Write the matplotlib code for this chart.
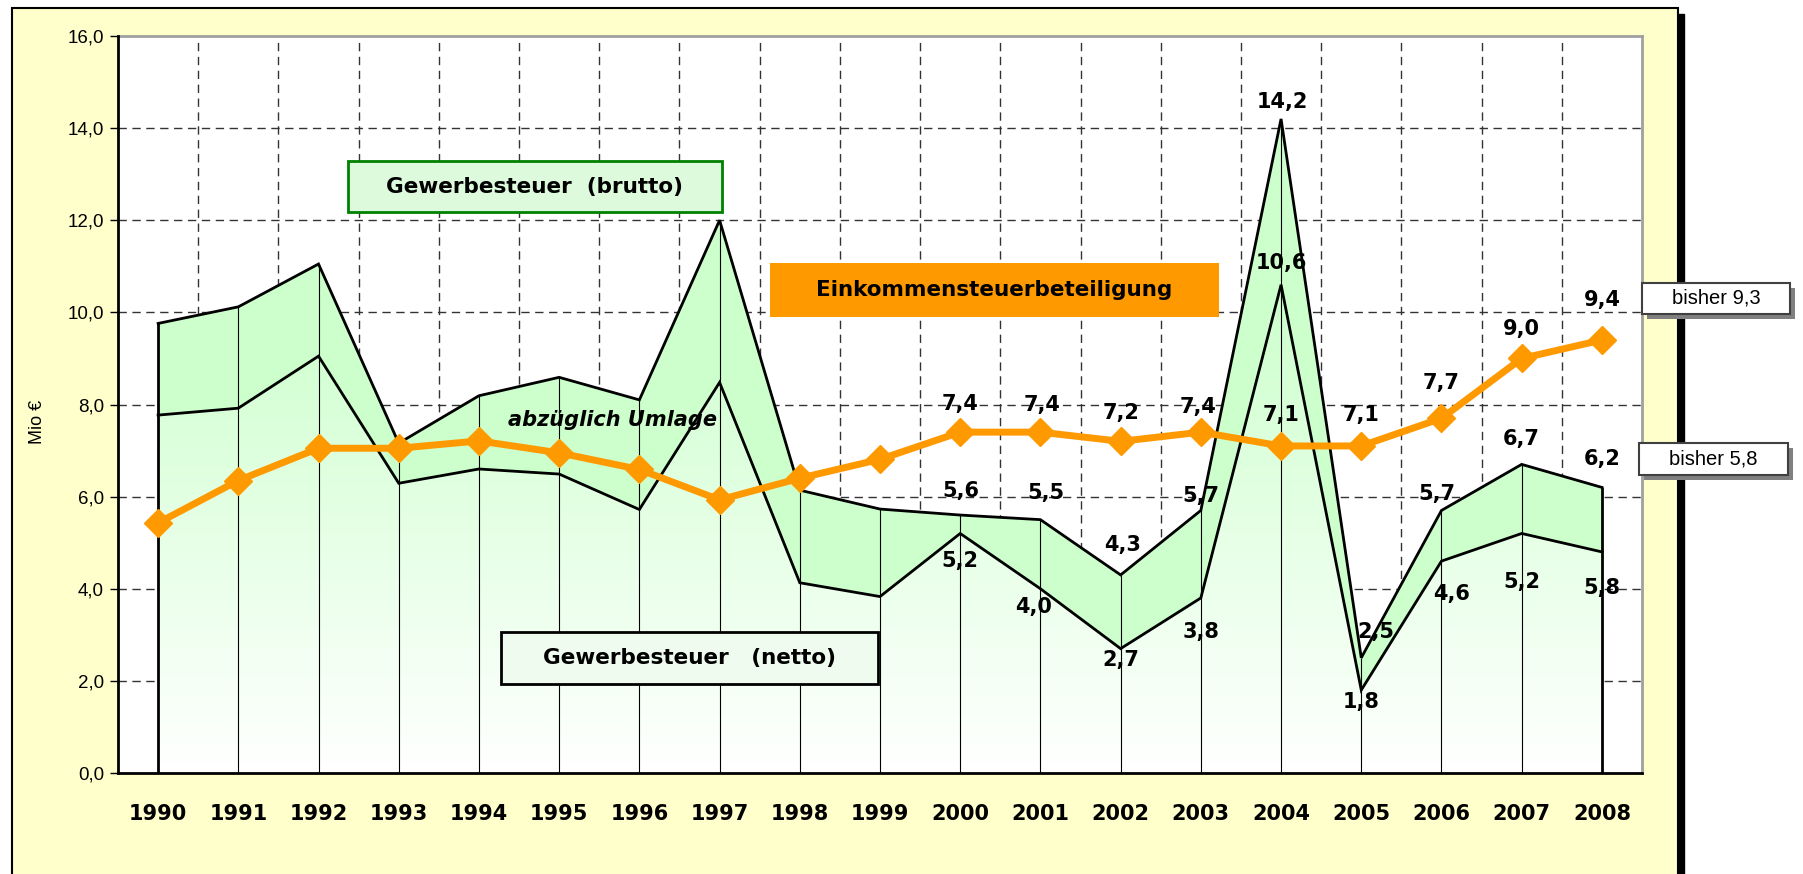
import matplotlib
matplotlib.use("Agg")
import matplotlib.pyplot as plt
import numpy as np
from matplotlib.patches import Rectangle, Polygon
from matplotlib.colors import LinearSegmentedColormap

plt.rcParams['font.family'] = ['Liberation Sans', 'DejaVu Sans']
BOLD = ['DejaVu Sans', 'Liberation Sans']

# ---------------- data ----------------
years = [str(y) for y in range(1990, 2009)]
gst_brutto = [9.76, 10.12, 11.05, 7.16, 8.19, 8.59, 8.10, 12.0, 6.14, 5.73,
              5.6, 5.5, 4.3, 5.7, 14.2, 2.5, 5.7, 6.7, 6.2]
gst_netto = [7.77, 7.92, 9.05, 6.29, 6.60, 6.49, 5.72, 8.48, 4.13, 3.83,
             5.2, 4.0, 2.7, 3.8, 10.6, 1.8, 4.6, 5.2, 4.8]
est_anteil = [5.43, 6.35, 7.05, 7.05, 7.21, 6.95, 6.59, 5.93, 6.40, 6.81,
              7.4, 7.4, 7.2, 7.4, 7.1, 7.1, 7.7, 9.0, 9.4]

# data labels (from 2000 on)
label_years = list(range(10, 19))
est_labels = ["7,4", "7,4", "7,2", "7,4", "7,1", "7,1", "7,7", "9,0", "9,4"]
brutto_labels = ["5,6", "5,5", "4,3", "5,7", "14,2", "2,5", "5,7", "6,7", "6,2"]
netto_labels = ["5,2", "4,0", "2,7", "3,8", "10,6", "1,8", "4,6", "5,2", "5,8"]

y_ticks = [0, 2, 4, 6, 8, 10, 12, 14, 16]
y_ticklabels = ["0,0", "2,0", "4,0", "6,0", "8,0", "10,0", "12,0", "14,0", "16,0"]

# label offsets (pixels) – layout only
est_off = [(0, 28), (2, 27), (0, 28), (-3, 25), (0, 31), (0, 31), (0, 35), (0, 29), (0, 40)]
brutto_off = [(1, 24), (6, 27), (2, 30), (0, 14), (1, 17), (15, 26), (-5, 16), (0, 25), (0, 28)]
netto_off = [(0, -28), (-7, -18), (0, -11), (0, -34), (0, 22), (0, -12), (10, -33), (0, -49), (0, -36)]

W, H = 1803, 874
fig = plt.figure(figsize=(W / 100, H / 100), dpi=100)
fig.patch.set_facecolor("white")

# outer frame with shadow
fig.patches.append(Rectangle((18 / W, -0.05), (1684 - 18) / W, 1 - 14 / H + 0.05,
                             transform=fig.transFigure, facecolor="black",
                             edgecolor="black", zorder=-3))
fig.patches.append(Rectangle((12 / W, -0.05), (1678 - 12) / W, 1 - 8 / H + 0.05,
                             transform=fig.transFigure, facecolor="#FFFFCC",
                             edgecolor="black", linewidth=1.5, zorder=-2))

L, R, T, B = 118, 1642, 36, 773
ax = fig.add_axes([L / W, 1 - B / H, (R - L) / W, (B - T) / H])
ax.set_zorder(1)
ax.set_facecolor("white")
x = np.arange(len(years))

# grid
for yy in y_ticks[1:-1]:
    ax.axhline(yy, color="#333333", lw=1.0, ls=(0, (6, 4)), zorder=0.5)
for xx in np.arange(0.5, len(years) - 1, 1.0):
    ax.axvline(xx, color="#333333", lw=1.0, ls=(0, (6, 4)), zorder=0.5)

# netto area gradient
verts = [(x[0], 0)] + list(zip(x, gst_netto)) + [(x[-1], 0)]
poly = Polygon(verts, closed=True, facecolor="none", edgecolor="none")
ax.add_patch(poly)
cmap = LinearSegmentedColormap.from_list("g", ["#FFFFFF", "#CCFFCC"])
grad = np.linspace(0, 1, 256).reshape(-1, 1)
im = ax.imshow(grad, extent=[x[0], x[-1], 0, max(gst_netto)], origin="lower",
               cmap=cmap, aspect="auto", zorder=1, interpolation="bilinear")
im.set_clip_path(poly)
ax.set_xlim(-0.5, len(years) - 0.5)
ax.set_ylim(0, 16)

# brutto band
ax.fill_between(x, gst_netto, gst_brutto, color="#CCFFCC", lw=0, zorder=1)

# drop lines
ax.vlines(x[1:-1], 0, gst_brutto[1:-1], color="black", lw=0.8, zorder=2)
# outlines
ax.plot(x, gst_brutto, color="black", lw=2.0, zorder=2.5, solid_joinstyle="miter")
ax.plot(x, gst_netto, color="black", lw=2.0, zorder=2.5, solid_joinstyle="miter")
ax.vlines([x[0], x[-1]], 0, [gst_brutto[0], gst_brutto[-1]], color="black", lw=2.0, zorder=2.5)

# Einkommensteuer line
ax.plot(x, est_anteil, color="#FF9900", lw=5, marker="D", markersize=14,
        markeredgecolor="#FF9900", zorder=3)

lab_kw = dict(textcoords="offset pixels", ha="center", va="center",
              fontsize=15, fontweight="bold", family=BOLD, color="black", zorder=6)
for i, k in enumerate(label_years):
    ax.annotate(est_labels[i], (x[k], est_anteil[k]), xytext=est_off[i], **lab_kw)
    ax.annotate(brutto_labels[i], (x[k], gst_brutto[k]), xytext=brutto_off[i], **lab_kw)
    ax.annotate(netto_labels[i], (x[k], gst_netto[k]), xytext=netto_off[i], **lab_kw)

# axes styling
ax.set_yticks(y_ticks)
ax.set_yticklabels(y_ticklabels, fontsize=13.5)
ax.set_xticks(x)
ax.set_xticklabels(years, fontsize=15, fontweight="bold", family=BOLD)
ax.tick_params(axis="x", length=0, pad=22)
ax.tick_params(axis="y", length=6, width=1, direction="out", pad=4)
for s in ["top", "right"]:
    ax.spines[s].set_color("#A0A0A0")
    ax.spines[s].set_linewidth(2)
ax.spines["left"].set_linewidth(2)
ax.spines["bottom"].set_linewidth(2)
ax.spines["left"].set_zorder(4)
ax.spines["bottom"].set_zorder(4)

fig.text(38 / W, 1 - 422 / H, "Mio €", rotation=90, ha="center", va="center", fontsize=13)

# text boxes (figure pixel coords)
def fbox(x0, y0, x1, y1, text, fc, ec, lw, fs=15.5, style="normal", weight="bold",
         family=BOLD, shadow=False):
    if shadow:
        fig.patches.append(Rectangle((x0 / W + 5 / W, 1 - (y1 + 5) / H), (x1 - x0) / W, (y1 - y0) / H,
                                     transform=fig.transFigure, facecolor="#808080",
                                     edgecolor="none", zorder=7))
    if fc is not None:
        fig.patches.append(Rectangle((x0 / W, 1 - y1 / H), (x1 - x0) / W, (y1 - y0) / H,
                                     transform=fig.transFigure, facecolor=fc,
                                     edgecolor=ec, linewidth=lw, zorder=8))
    fig.text((x0 + x1) / 2 / W, 1 - (y0 + y1) / 2 / H, text, ha="center", va="center",
             fontsize=fs, fontweight=weight, fontstyle=style, family=family, zorder=9)

fbox(348, 161, 722, 212, "Gewerbesteuer  (brutto)", "#DDFADD", "#008000", 2)
fbox(501, 632, 878, 684, "Gewerbesteuer   (netto)", "#EEFBEE", "black", 2)
fbox(770, 263, 1219, 317, "Einkommensteuerbeteiligung", "#FF9900", "none", 0)
fbox(590, 400, 636, 440, "abzüglich Umlage", None, None, 0, style="oblique", fs=15)
fbox(1642, 283, 1790, 314, "bisher 9,3", "white", "#404040", 1.5, fs=14.5, weight="normal",
     family=['Liberation Sans'], shadow=True)
fbox(1639, 443, 1788, 475, "bisher 5,8", "white", "#404040", 1.5, fs=14.5, weight="normal",
     family=['Liberation Sans'], shadow=True)

fig.savefig("out.png", dpi=100)
